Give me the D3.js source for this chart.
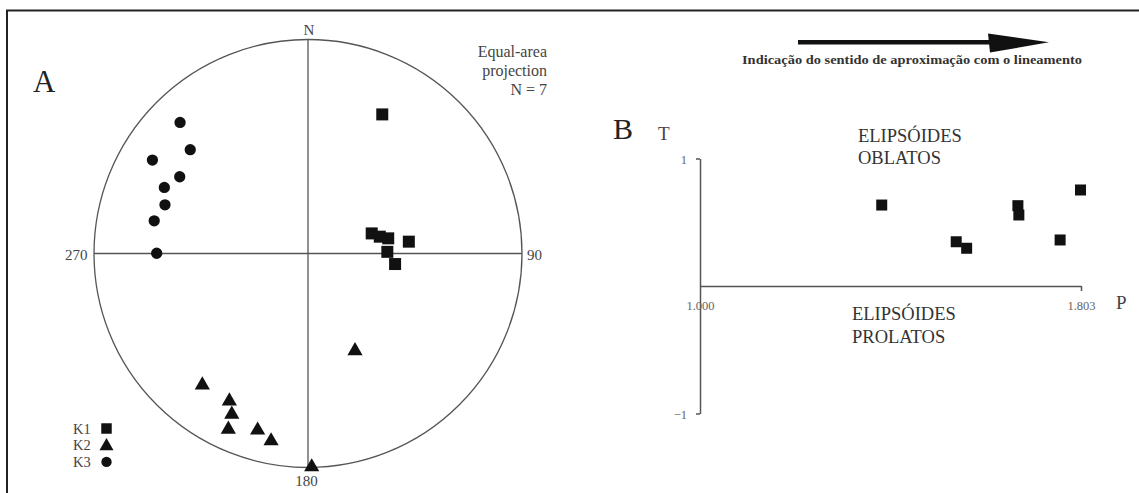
<!DOCTYPE html>
<html>
<head>
<meta charset="utf-8">
<script src="https://cdn.jsdelivr.net/npm/d3@7"></script>
<style>
  html, body { margin: 0; padding: 0; background: #fff; }
  svg { display: block; }
  text { font-family: "Liberation Serif", "DejaVu Serif", serif; }
</style>
</head>
<body>
<svg id="chart" width="1139" height="493"></svg>
<script>
// ---- Panel A: stereonet data (trend / plunge, degrees) ----
const k1Trend  = [28.1, 72.5, 76.8, 79.3, 83.3, 88.8, 96.9];
const k1Plunge = [27.2, 64.5, 61.8, 58.7, 50.8, 59.6, 56.3];
const k2Trend  = [154.0, 179.0, 219.0, 208.2, 205.5, 204.5, 196.0, 191.2];
const k2Plunge = [48.5, 0.8, 22.6, 23.3, 18.4, 11.2, 15.7, 12.2];
const k3Trend  = [315.7, 311.4, 301.0, 300.9, 294.7, 288.8, 282.0, 270.1];
const k3Plunge = [15.5, 27.5, 16.3, 30.8, 27.0, 30.1, 27.4, 30.0];
const legendLabels = ["K1", "K2", "K3"];
const compassLabels = ["N", "90", "180", "270"];
const infoLines = ["Equal-area", "projection", "N = 7"];

// ---- Panel B: P-T diagram ----
const pValues = [1.383, 1.540, 1.562, 1.670, 1.672, 1.759, 1.802];
const tValues = [0.635, 0.347, 0.296, 0.630, 0.557, 0.361, 0.753];
const pTicks = [1.000, 1.803];
const tTicks = [-1, 1];
const arrowCaption = "Indicação do sentido de aproximação com o lineamento";

const svg = d3.select("#chart");
const ink = "#111";
const grey = "#444";

// frame
svg.append("rect").attr("x", 7).attr("y", 10.5).attr("width", 1150).attr("height", 500)
  .attr("fill", "none").attr("stroke", "#222").attr("stroke-width", 2);

// ---------- Panel A ----------
const cx = 308, cy = 253.5, R = 214;
const sx = d3.scaleLinear().domain([-1, 1]).range([cx - R, cx + R]);
const sy = d3.scaleLinear().domain([-1, 1]).range([cy + R, cy - R]);
function proj(trend, plunge) {
  const r = Math.SQRT2 * Math.sin((90 - plunge) / 2 * Math.PI / 180);
  const t = trend * Math.PI / 180;
  return [sx(r * Math.sin(t)), sy(r * Math.cos(t))];
}
const A = svg.append("g");
A.append("circle").attr("cx", sx(0)).attr("cy", sy(0)).attr("r", sx(1) - sx(0))
  .attr("fill", "none").attr("stroke", "#555").attr("stroke-width", 1.3);
A.append("line").attr("x1", sx(0)).attr("x2", sx(0)).attr("y1", sy(1)).attr("y2", sy(-1))
  .attr("stroke", "#555").attr("stroke-width", 1.3);
A.append("line").attr("x1", sx(-1)).attr("x2", sx(1)).attr("y1", sy(0)).attr("y2", sy(0))
  .attr("stroke", "#555").attr("stroke-width", 1.3);

// compass labels
A.append("text").attr("x", sx(0) + 1).attr("y", sy(1) - 4.5).attr("text-anchor", "middle")
  .attr("font-size", 15).attr("fill", grey).text(compassLabels[0]);
A.append("text").attr("x", sx(1) + 5).attr("y", sy(0) + 6).attr("text-anchor", "start")
  .attr("font-size", 15).attr("fill", grey).text(compassLabels[1]);
A.append("text").attr("x", sx(0) - 1.5).attr("y", sy(-1) + 18.5).attr("text-anchor", "middle")
  .attr("font-size", 15).attr("fill", grey).text(compassLabels[2]);
A.append("text").attr("x", sx(-1) - 6.5).attr("y", sy(0) + 6).attr("text-anchor", "end")
  .attr("font-size", 15).attr("fill", grey).text(compassLabels[3]);

// panel letter
svg.append("text").attr("x", 33).attr("y", 91.5).attr("font-size", 31).attr("fill", "#222").text("A");

// info text
A.selectAll("text.info").data(infoLines).enter().append("text").attr("class", "info")
  .attr("x", 547).attr("y", (d, i) => 57 + i * 19).attr("text-anchor", "end")
  .attr("font-size", 16).attr("fill", grey).text(d => d);

const sqSym = d3.symbol().type(d3.symbolSquare).size(144);
const triSym = d3.symbol().type(d3.symbolTriangle).size(100);
const cirSym = d3.symbol().type(d3.symbolCircle).size(100);

A.selectAll("path.k1").data(k1Trend.map((t, i) => proj(t, k1Plunge[i]))).enter()
  .append("path").attr("class", "k1").attr("d", sqSym)
  .attr("transform", d => `translate(${d[0]},${d[1]})`).attr("fill", ink);
A.selectAll("path.k2").data(k2Trend.map((t, i) => proj(t, k2Plunge[i]))).enter()
  .append("path").attr("class", "k2").attr("d", triSym)
  .attr("transform", d => `translate(${d[0]},${d[1] + 1})`).attr("fill", ink);
A.selectAll("path.k3").data(k3Trend.map((t, i) => proj(t, k3Plunge[i]))).enter()
  .append("path").attr("class", "k3").attr("d", cirSym)
  .attr("transform", d => `translate(${d[0]},${d[1]})`).attr("fill", ink);

// legend
const legSyms = [d3.symbol().type(d3.symbolSquare).size(110),
                 d3.symbol().type(d3.symbolTriangle).size(85),
                 d3.symbol().type(d3.symbolCircle).size(85)];
const leg = A.append("g");
legendLabels.forEach((lab, i) => {
  const y = 428.5 + i * 16.7;
  leg.append("text").attr("x", 73).attr("y", y + 5).attr("font-size", 14.5)
    .attr("fill", grey).text(lab);
  leg.append("path").attr("d", legSyms[i]).attr("transform", `translate(106.5,${y + (i === 1 ? 1 : 0)})`)
    .attr("fill", ink);
});

// ---------- Arrow ----------
svg.append("line").attr("x1", 798).attr("x2", 992).attr("y1", 42.3).attr("y2", 42.3)
  .attr("stroke", ink).attr("stroke-width", 4.5);
svg.append("path").attr("d", "M988,33.5 L1049,42.3 L990,52.5 Z").attr("fill", ink);
svg.append("text").attr("x", 912).attr("y", 64).attr("text-anchor", "middle")
  .attr("font-size", 13.5).attr("font-weight", "bold").attr("fill", "#333")
  .attr("textLength", 340).attr("lengthAdjust", "spacingAndGlyphs").text(arrowCaption);

// ---------- Panel B ----------
const xB = d3.scaleLinear().domain([1.0, 1.803]).range([700, 1081]);
const yB = d3.scaleLinear().domain([-1, 1]).range([413.5, 158.5]);

const yAxis = svg.append("g").attr("transform", `translate(${xB(1.0)},0)`)
  .call(d3.axisLeft(yB).tickValues(tTicks).tickSize(4).tickSizeOuter(0).tickPadding(9)
    .tickFormat(d3.format("d")));
const xAxis = svg.append("g").attr("transform", `translate(0,${yB(0)})`)
  .call(d3.axisBottom(xB).tickValues(pTicks).tickSize(5).tickSizeOuter(0).tickPadding(10)
    .tickFormat(d3.format(".3f")));
[yAxis, xAxis].forEach(g => {
  g.selectAll("path, line").attr("stroke", "#555").attr("stroke-width", 1.5);
  g.selectAll("text").attr("font-family", "Liberation Serif").attr("font-size", 12.5)
    .attr("fill", "#666");
});
yAxis.selectAll(".tick text").attr("dy", "0.4em");
xAxis.selectAll(".tick").filter(d => d === 1.0).select("line").remove();

svg.append("text").attr("x", 613).attr("y", 138.5).attr("font-size", 30).attr("fill", "#222").text("B");
svg.append("text").attr("x", 658).attr("y", 140).attr("font-size", 19).attr("fill", grey).text("T");
svg.append("text").attr("x", 1116).attr("y", 308.5).attr("font-size", 19).attr("fill", grey).text("P");

const regionText = [["ELIPSÓIDES", "OBLATOS"], ["ELIPSÓIDES", "PROLATOS"]];
const regionPos = [[858, 141.5], [852, 320]];
regionText.forEach((lines, k) => {
  lines.forEach((s, i) => {
    svg.append("text").attr("x", regionPos[k][0]).attr("y", regionPos[k][1] + i * 22.5)
      .attr("font-size", 18.5).attr("fill", "#333").text(s);
  });
});

svg.selectAll("path.ptb").data(pValues.map((p, i) => [xB(p), yB(tValues[i])])).enter()
  .append("path").attr("class", "ptb").attr("d", d3.symbol().type(d3.symbolSquare).size(121))
  .attr("transform", d => `translate(${d[0]},${d[1]})`).attr("fill", ink);
</script>
</body>
</html>
